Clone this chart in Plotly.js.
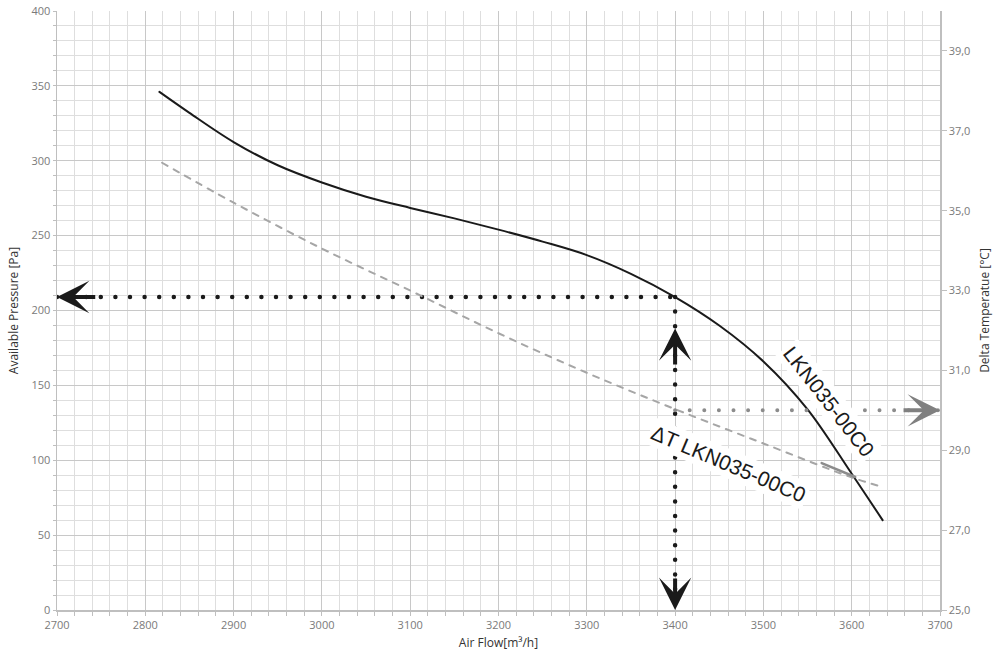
<!DOCTYPE html>
<html>
<head>
<meta charset="utf-8">
<script src="https://cdn.plot.ly/plotly-3.0.1.min.js"></script>
<style>
  html, body { margin: 0; padding: 0; background: #fff; }
  #chart { width: 993px; height: 657px; }
  .js-line { stroke-linecap: round; }
</style>
</head>
<body>
<div id="chart"></div>
<script>
// ---- data ----
var flowP    = [2816, 2850, 2900, 2950, 3000, 3050, 3100, 3150, 3200, 3250, 3300, 3350, 3400, 3450, 3500, 3550, 3600, 3635];
var pressure = [346, 332, 312.5, 297, 285.5, 276, 268.5, 261.5, 254, 246, 237, 224.5, 209, 190, 166, 134, 91, 60];

var flowT  = [2819, 2900, 3000, 3100, 3200, 3300, 3400, 3500, 3600, 3635];
var deltaT = [36.2, 35.2, 34.05, 33.0, 31.93, 30.94, 30.03, 29.17, 28.32, 28.08];

var opFlow = 3400;
var opPressure = 209;
var opDeltaT = 30.0;

var leaderX = [3566, 3604];
var leaderT = [28.68, 28.33];

var xTickVals = [2700, 2800, 2900, 3000, 3100, 3200, 3300, 3400, 3500, 3600, 3700];
var yTickVals = [0, 50, 100, 150, 200, 250, 300, 350, 400];
var y2TickVals = [25, 27, 29, 31, 33, 35, 37, 39];
var y2TickText = ['25,0', '27,0', '29,0', '31,0', '33,0', '35,0', '37,0', '39,0'];

var curveLabel = 'LKN035-00C0';
var deltaLabel = '\u0394T LKN035-00C0';

var xMin = 2700, xMax = 3700;

// ---- traces ----
var traces = [
  { x: flowT, y: deltaT, yaxis: 'y2', mode: 'lines',
    line: { color: '#a6a6a6', width: 2, dash: '6px,7px', shape: 'spline', smoothing: 1 } },
  { x: leaderX, y: leaderT, yaxis: 'y2', mode: 'lines',
    line: { color: '#8c8c8c', width: 2.5 } },
  { x: flowP, y: pressure, mode: 'lines',
    line: { color: '#1a1a1a', width: 2, shape: 'spline', smoothing: 1 } },
  { x: [xMin, opFlow], y: [opPressure, opPressure], mode: 'lines',
    line: { color: '#1a1a1a', width: 4.5, dash: '0px,14.6px' } },
  { x: [opFlow, opFlow], y: [opPressure, 0], mode: 'lines',
    line: { color: '#1a1a1a', width: 4.5, dash: '0px,14.6px' } },
  { x: [opFlow, xMax], y: [opDeltaT, opDeltaT], yaxis: 'y2', mode: 'lines',
    line: { color: '#8c8c8c', width: 4, dash: '0px,14.6px' } }
];

var arrowCommon = { text: '', showarrow: true, arrowhead: 3, arrowsize: 1.35, arrowwidth: 4, standoff: 0, startstandoff: 0 };
function arrow(o) { return Object.assign({}, arrowCommon, o); }

var annotations = [
  arrow({ xref: 'x', yref: 'y', axref: 'x', ayref: 'y', x: xMin, y: opPressure, ax: xMin + 45, ay: opPressure, arrowcolor: '#1a1a1a' }),
  arrow({ xref: 'x', yref: 'y', axref: 'x', ayref: 'y', x: opFlow, y: 188, ax: opFlow, ay: 163, arrowcolor: '#1a1a1a' }),
  arrow({ xref: 'x', yref: 'y', axref: 'x', ayref: 'y', x: opFlow, y: 0, ax: opFlow, ay: 22, arrowcolor: '#1a1a1a' }),
  arrow({ xref: 'x', yref: 'y2', axref: 'x', ayref: 'y2', x: xMax, y: opDeltaT, ax: xMax - 43, ay: opDeltaT, arrowcolor: '#808080' }),
  { xref: 'x', yref: 'y', x: 3574, y: 139, text: curveLabel, showarrow: false, textangle: 52,
    bgcolor: '#ffffff', borderpad: 2, xanchor: 'center', yanchor: 'middle',
    font: { family: 'Liberation Sans, Arial, sans-serif', size: 21, color: '#1a1a1a' } },
  { xref: 'x', yref: 'y', x: 3460, y: 98, text: deltaLabel, showarrow: false, textangle: 23,
    bgcolor: '#ffffff', borderpad: 2, xanchor: 'center', yanchor: 'middle',
    font: { family: 'Liberation Sans, Arial, sans-serif', size: 21, color: '#1a1a1a' } }
];

var tickFont = { family: 'Open Sans, sans-serif', size: 11, color: '#7a7a7a' };
var titleFont = { family: 'Open Sans, sans-serif', size: 12, color: '#333333' };

var layout = {
  width: 993, height: 657,
  margin: { l: 57, r: 53, t: 11, b: 47 },
  paper_bgcolor: '#ffffff', plot_bgcolor: '#ffffff',
  showlegend: false, hovermode: false,
  xaxis: {
    range: [xMin, xMax], tickvals: xTickVals, tickfont: tickFont,
    showgrid: true, gridcolor: '#c8c8c8', gridwidth: 1,
    minor: { dtick: 20, showgrid: true, gridcolor: '#dedede', gridwidth: 1, ticks: 'outside', ticklen: 4, tickcolor: '#bfbfbf' },
    ticks: 'outside', ticklen: 4, tickcolor: '#bfbfbf',
    showline: true, linecolor: '#bfbfbf', linewidth: 1.5, zeroline: false,
    title: { text: 'Air Flow[m\u00b3/h]', font: titleFont, standoff: 8 }
  },
  yaxis: {
    range: [0, 400], tickvals: yTickVals, tickfont: tickFont,
    showgrid: true, gridcolor: '#c8c8c8', gridwidth: 1,
    minor: { dtick: 10, showgrid: true, gridcolor: '#dedede', gridwidth: 1, ticks: 'outside', ticklen: 3, tickcolor: '#bfbfbf' },
    ticks: 'outside', ticklen: 3, tickcolor: '#bfbfbf',
    showline: true, linecolor: '#bfbfbf', linewidth: 1.5, zeroline: false,
    title: { text: 'Available Pressure [Pa]', font: titleFont, standoff: 10 }
  },
  yaxis2: {
    overlaying: 'y', side: 'right', range: [25, 40],
    tickvals: y2TickVals, ticktext: y2TickText, tickfont: tickFont,
    showgrid: false, ticks: 'outside', ticklen: 5, tickcolor: '#bfbfbf',
    showline: true, linecolor: '#bfbfbf', linewidth: 1.5, zeroline: false,
    title: { text: 'Delta Temperatue [\u00b0C]', font: titleFont, standoff: 12 }
  },
  annotations: annotations
};

Plotly.newPlot('chart', traces, layout, { staticPlot: true, displayModeBar: false });
</script>
</body>
</html>
